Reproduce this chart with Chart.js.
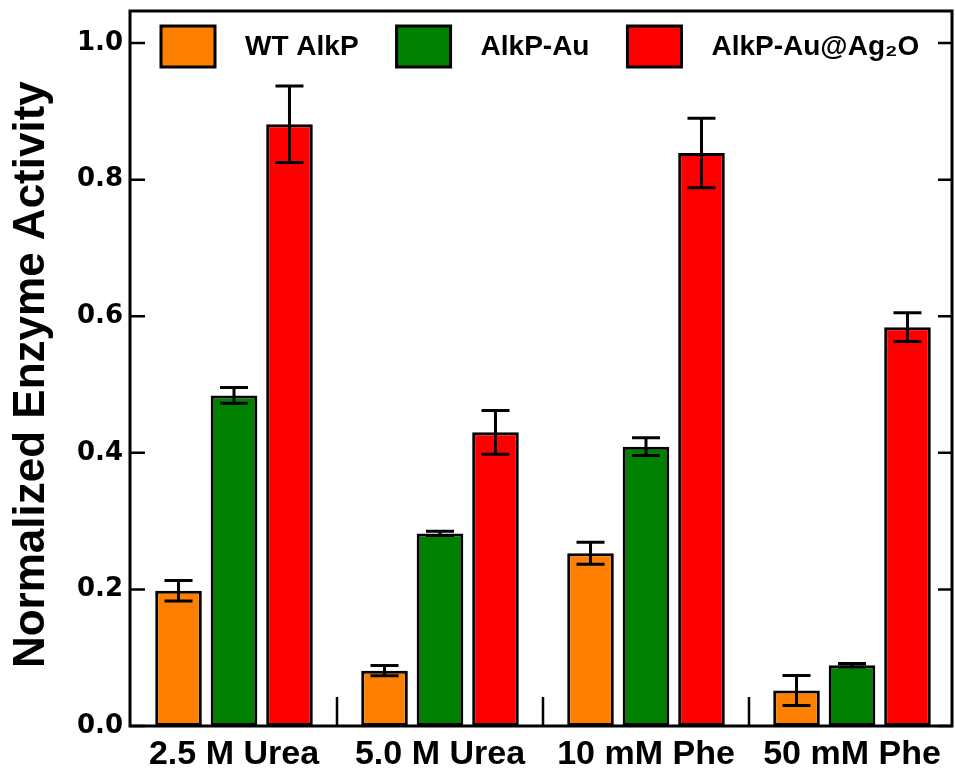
<!DOCTYPE html>
<html><head><meta charset="utf-8">
<script src="https://cdn.jsdelivr.net/npm/chart.js@4.4.0/dist/chart.umd.min.js"></script>
<style>html,body{margin:0;padding:0;background:#fff;}#wrap{width:955px;height:770px;}</style>
</head><body><div id="wrap"><canvas id="c" width="955" height="770"></canvas></div>
<script>
const categories = ['2.5 M Urea', '5.0 M Urea', '10 mM Phe', '50 mM Phe'];
const seriesLabels = ['WT AlkP', 'AlkP-Au', 'AlkP-Au@Ag\u2082O'];
const wtValues = [0.198, 0.081, 0.253, 0.052];
const wtErrors = [0.015, 0.0075, 0.016, 0.022];
const auValues = [0.484, 0.282, 0.409, 0.089];
const auErrors = [0.0115, 0.003, 0.013, 0.0025];
const agValues = [0.881, 0.430, 0.839, 0.584];
const agErrors = [0.056, 0.032, 0.051, 0.021];
const yTicks = [0.0, 0.2, 0.4, 0.6, 0.8, 1.0];
const yMax = 1.047;

const seriesColors = ['#FF8000', '#008000', '#FF0000'];
const errorSets = [wtErrors, auErrors, agErrors];

const decor = {
  id: 'decor',
  afterDatasetsDraw(chart) {
    const ctx = chart.ctx, ys = chart.scales.y;
    ctx.save();
    ctx.strokeStyle = '#000';
    ctx.lineWidth = 3;
    ctx.lineCap = 'butt';
    chart.data.datasets.forEach((ds, di) => {
      const meta = chart.getDatasetMeta(di);
      meta.data.forEach((el, i) => {
        const v = ds.data[i], e = errorSets[di][i];
        const yt = ys.getPixelForValue(v + e), yb = ys.getPixelForValue(v - e);
        const x = el.x, hw = 14;
        ctx.beginPath();
        ctx.moveTo(x, yt); ctx.lineTo(x, yb);
        ctx.moveTo(x - hw, yt); ctx.lineTo(x + hw, yt);
        ctx.moveTo(x - hw, yb); ctx.lineTo(x + hw, yb);
        ctx.stroke();
      });
    });
    ctx.restore();
  },
  afterDraw(chart) {
    const ctx = chart.ctx, a = chart.chartArea, xs = chart.scales.x, ys = chart.scales.y;
    const L = a.left - 1, R = 952, T = a.top, B = a.bottom;
    ctx.save();
    ctx.strokeStyle = '#000';
    ctx.lineWidth = 2.5;
    ctx.beginPath();
    yTicks.forEach(v => {
      const py = ys.getPixelForValue(v);
      ctx.moveTo(L, py); ctx.lineTo(L + 15, py);
      ctx.moveTo(R - 14, py); ctx.lineTo(R, py);
    });
    for (let i = 0; i < categories.length - 1; i++) {
      const px = (xs.getPixelForValue(i) + xs.getPixelForValue(i + 1)) / 2;
      ctx.moveTo(px, B); ctx.lineTo(px, B - 29);
    }
    ctx.stroke();
    ctx.lineWidth = 3;
    ctx.strokeRect(L, T, R - L, B - T);
    ctx.font = 'bold 28px "Liberation Sans", Arial, sans-serif';
    ctx.textBaseline = 'middle';
    ctx.textAlign = 'left';
    let x = 161;
    const by = 26, bw = 54, bh = 41;
    chart.data.datasets.forEach((ds, di) => {
      ctx.fillStyle = ds.backgroundColor;
      ctx.fillRect(x, by, bw, bh);
      ctx.lineWidth = 3;
      ctx.strokeRect(x, by, bw, bh);
      ctx.fillStyle = '#000';
      const tx = x + bw + 30;
      ctx.fillText(ds.label, tx, by + bh / 2 + 1);
      x = tx + ctx.measureText(ds.label).width + 38;
    });
    ctx.restore();
  }
};

const valueSets = [wtValues, auValues, agValues];
new Chart(document.getElementById('c'), {
  type: 'bar',
  data: {
    labels: categories,
    datasets: seriesLabels.map((lab, i) => ({
      label: lab,
      data: valueSets[i],
      backgroundColor: seriesColors[i],
      borderColor: '#000',
      borderWidth: 3,
      borderSkipped: false,
      categoryPercentage: 0.808,
      barPercentage: 0.84
    }))
  },
  options: {
    responsive: false,
    animation: false,
    devicePixelRatio: 1,
    layout: { padding: { top: 11, right: 0, left: 0, bottom: 0 } },
    plugins: { legend: { display: false }, tooltip: { enabled: false } },
    scales: {
      x: {
        grid: { display: false, drawTicks: false },
        border: { display: false },
        ticks: {
          color: '#000',
          font: { family: '"Liberation Sans", Arial, sans-serif', size: 34, weight: 'bold' },
          padding: 8, maxRotation: 0, autoSkip: false
        },
        afterFit(s) { s.height = 44; s.paddingLeft = 0; s.paddingRight = 0; }
      },
      y: {
        min: 0, max: yMax,
        grid: { display: false, drawTicks: false },
        border: { display: false },
        afterBuildTicks(s) { s.ticks = yTicks.map(v => ({ value: v })); },
        ticks: {
          color: '#000',
          font: { family: '"DejaVu Sans", sans-serif', size: 26, weight: 'bold' },
          padding: 8,
          callback: v => Number(v).toFixed(1)
        },
        title: {
          display: true,
          text: 'Normalized Enzyme Activity ',
          color: '#000',
          font: { family: '"Liberation Sans", Arial, sans-serif', size: 44, weight: 'bold' },
          padding: { top: 5, bottom: 0 }
        },
        afterFit(s) { s.width = 131; s.paddingTop = 0; s.paddingBottom = 0; }
      }
    }
  },
  plugins: [decor]
});
</script>
</body></html>
